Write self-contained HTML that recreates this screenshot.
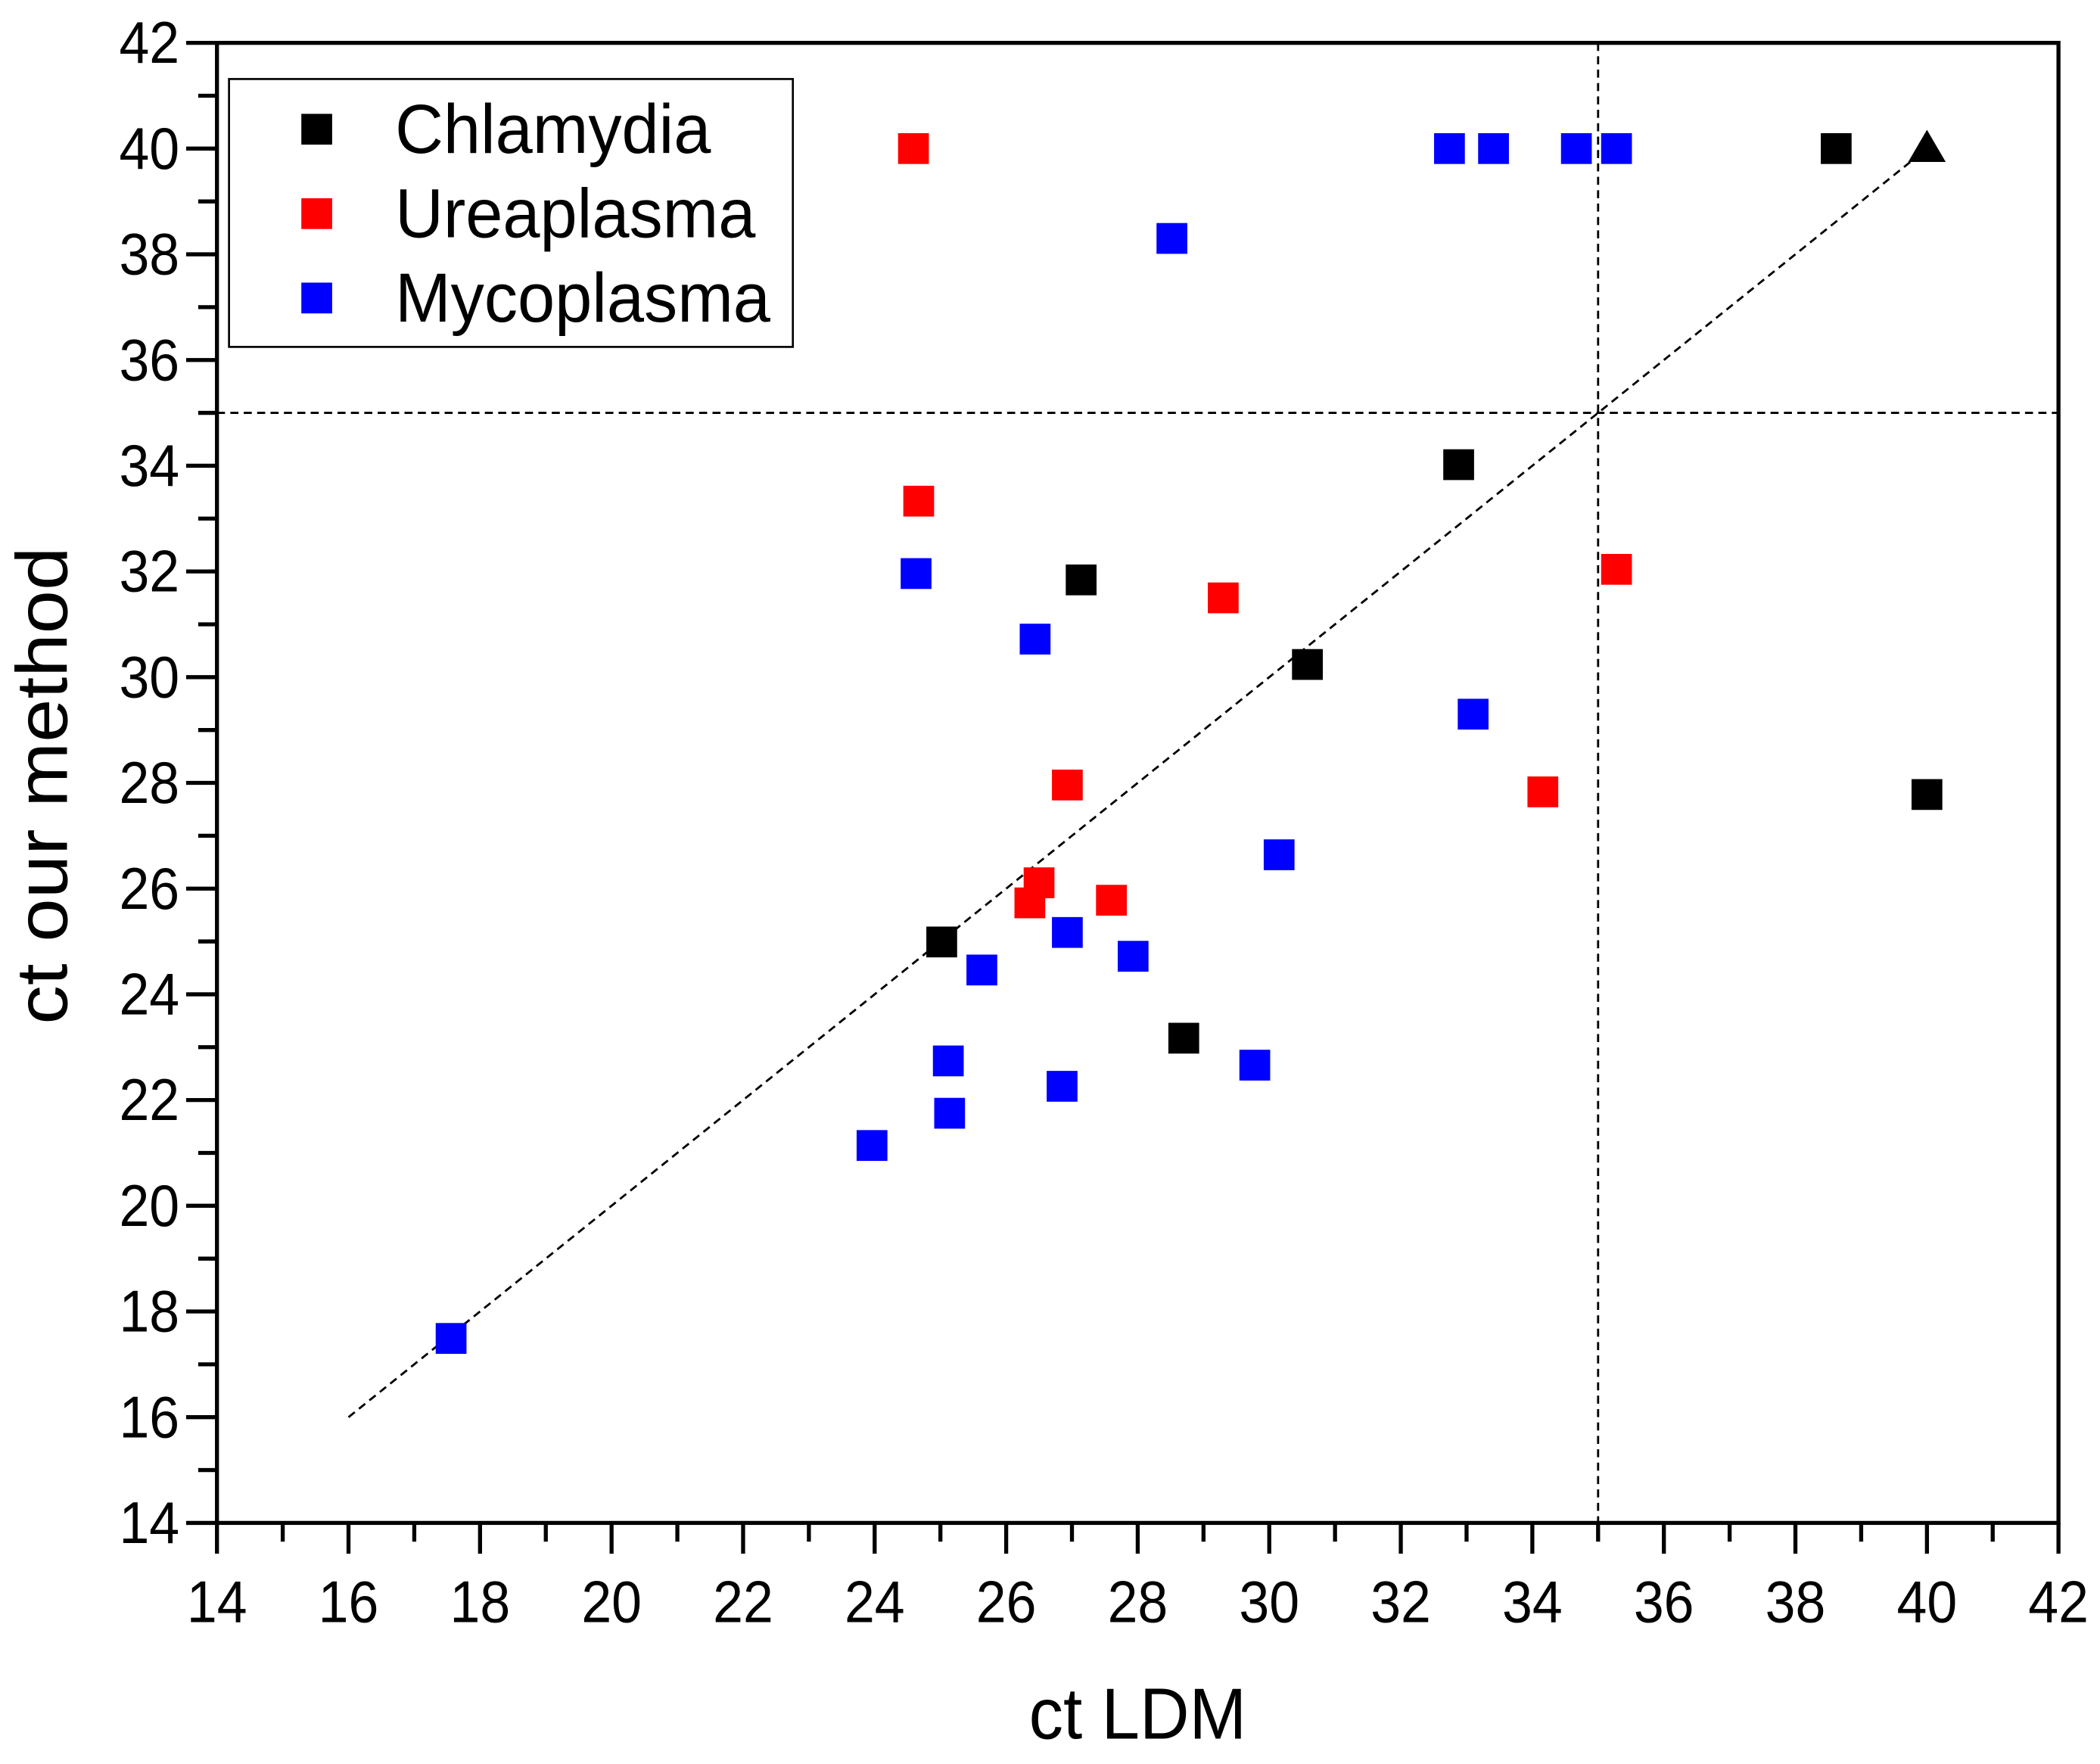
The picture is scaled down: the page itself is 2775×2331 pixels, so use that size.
<!DOCTYPE html>
<html><head><meta charset="utf-8"><style>
html,body{margin:0;padding:0;background:#fff;}
svg{display:block;font-family:"Liberation Sans",Arial,sans-serif;}
</style></head><body>
<svg id="chart" width="2775" height="2331" viewBox="0 0 1568 1317" preserveAspectRatio="none" xmlns="http://www.w3.org/2000/svg">
<g id="grid"></g>
<g id="marks"></g>
<g id="axes"></g>
</svg>
<script>
const xTicks=[14,16,18,20,22,24,26,28,30,32,34,36,38,40,42];
const yTicks=[14,16,18,20,22,24,26,28,30,32,34,36,38,40,42];
const chlamX=[38.62,32.88,27.14,30.58,40.0,25.02,28.7];
const chlamY=[40,34.02,31.84,30.24,27.78,24.99,23.17];
const triX=[40]; const triY=[40];
const ureaX=[24.59,24.67,29.3,35.28,26.93,34.16,26.5,26.36,27.6];
const ureaY=[40,33.33,31.5,32.04,27.96,27.83,26.11,25.73,25.78];
const mycoX=[32.74,33.41,34.67,35.28,28.52,24.63,26.44,33.1,30.15,26.93,27.93,25.63,25.12,29.78,26.85,25.14,23.96,17.56];
const mycoY=[40,40,40,40,38.3,31.96,30.72,29.3,26.64,25.17,24.72,24.46,22.74,22.66,22.26,21.75,21.14,17.49];
const cutoff=[35];
const diag=[16,40];

const L=162,R=1537,T=32,B=1137,xmin=14,xmax=42,ymin=14,ymax=42;
const sx=v=>L+(v-xmin)/(xmax-xmin)*(R-L);
const sy=v=>B-(v-ymin)/(ymax-ymin)*(B-T);
const NS='http://www.w3.org/2000/svg';
function mk(tag,attrs,parent){const e=document.createElementNS(NS,tag);for(const k in attrs)e.setAttribute(k,attrs[k]);parent.appendChild(e);return e;}
const grid=document.getElementById('grid'),marks=document.getElementById('marks'),axes=document.getElementById('axes');

let e;
e=mk('line',{x1:L,x2:R,y1:sy(cutoff[0]),y2:sy(cutoff[0]),stroke:'#000','stroke-width':1.6,'stroke-dasharray':'6,4'},grid);


e=mk('line',{x1:sx(cutoff[0]),x2:sx(cutoff[0]),y1:T,y2:B,stroke:'#000','stroke-width':1.6,'stroke-dasharray':'6,4'},grid);


e=mk('line',{x1:sx(diag[0]),y1:sy(diag[0]),x2:sx(diag[1]),y2:sy(diag[1]),stroke:'#000','stroke-width':1.6,'stroke-dasharray':'6,4'},grid);



const S=23;
function squares(xs,ys,color,name){
  xs.forEach((x,i)=>{
    const r=mk('rect',{x:sx(x)-S/2,y:sy(ys[i])-S/2,width:S,height:S,fill:color},marks);
    
    
  });
}
squares(ureaX,ureaY,'#ff0000','ureaplasma');
squares(mycoX,mycoY,'#0000ff','mycoplasma');
squares(chlamX,chlamY,'#000000','chlamydia');
triX.forEach((x,i)=>{
  const cx=sx(x),cy=sy(triY[i]);
  const t=mk('polygon',{points:`${cx},${cy-14} ${cx-14},${cy+10} ${cx+14},${cy+10}`,fill:'#000'},marks);
  
  
});

e=mk('rect',{x:L,y:T,width:R-L,height:B-T,fill:'none',stroke:'#000','stroke-width':3},axes);


for(let v=xmin;v<=xmax;v+=1){
  const major=xTicks.includes(v);
  const t=mk('line',{x1:sx(v),x2:sx(v),y1:B,y2:B+(major?23:14),stroke:'#000','stroke-width':3},axes);
  
  
}
xTicks.forEach(v=>{
  const t=mk('text',{x:0,y:0,'text-anchor':'middle','font-size':44,fill:'#000',transform:`translate(${sx(v)},${B+74}) scale(0.92,1)`},axes);
  t.textContent=v;
  
  
});
for(let v=ymin;v<=ymax;v+=1){
  const major=yTicks.includes(v);
  const t=mk('line',{x1:L-(major?23:14),x2:L,y1:sy(v),y2:sy(v),stroke:'#000','stroke-width':3},axes);
  
  
}
yTicks.forEach(v=>{
  const t=mk('text',{x:0,y:0,'text-anchor':'end','font-size':44,fill:'#000',transform:`translate(${L-28},${sy(v)+15}) scale(0.92,1)`},axes);
  t.textContent=v;
  
  
});
e=mk('text',{x:0,y:0,'text-anchor':'middle','font-size':54,fill:'#000',transform:`translate(${(L+R)/2},1298) scale(0.95,1)`},axes);
e.textContent='ct LDM';


e=mk('text',{x:0,y:0,'text-anchor':'middle','font-size':54,fill:'#000',transform:`translate(50,${(T+B)/2+2}) rotate(-90) scale(1.08,1)`},axes);
e.textContent='ct our method';



const lg=mk('g',{},axes);


mk('rect',{x:171,y:59,width:421,height:200,fill:'#fff',stroke:'#000','stroke-width':1.5},lg);
const legNames=['Chlamydia','Ureaplasma','Mycoplasma'];
const legColors=['#000','#ff0000','#0000ff'];
legNames.forEach((n,i)=>{
  const y=96+i*63;
  const g=mk('g',{},lg);
  
  
  mk('rect',{x:225,y:y-11,width:23,height:23,fill:legColors[i]},g);
  const t=mk('text',{x:0,y:0,'font-size':52,fill:'#000',transform:`translate(295,${y+18}) scale(0.96,1)`},g);
  t.textContent=n;
});
</script>
</body></html>
